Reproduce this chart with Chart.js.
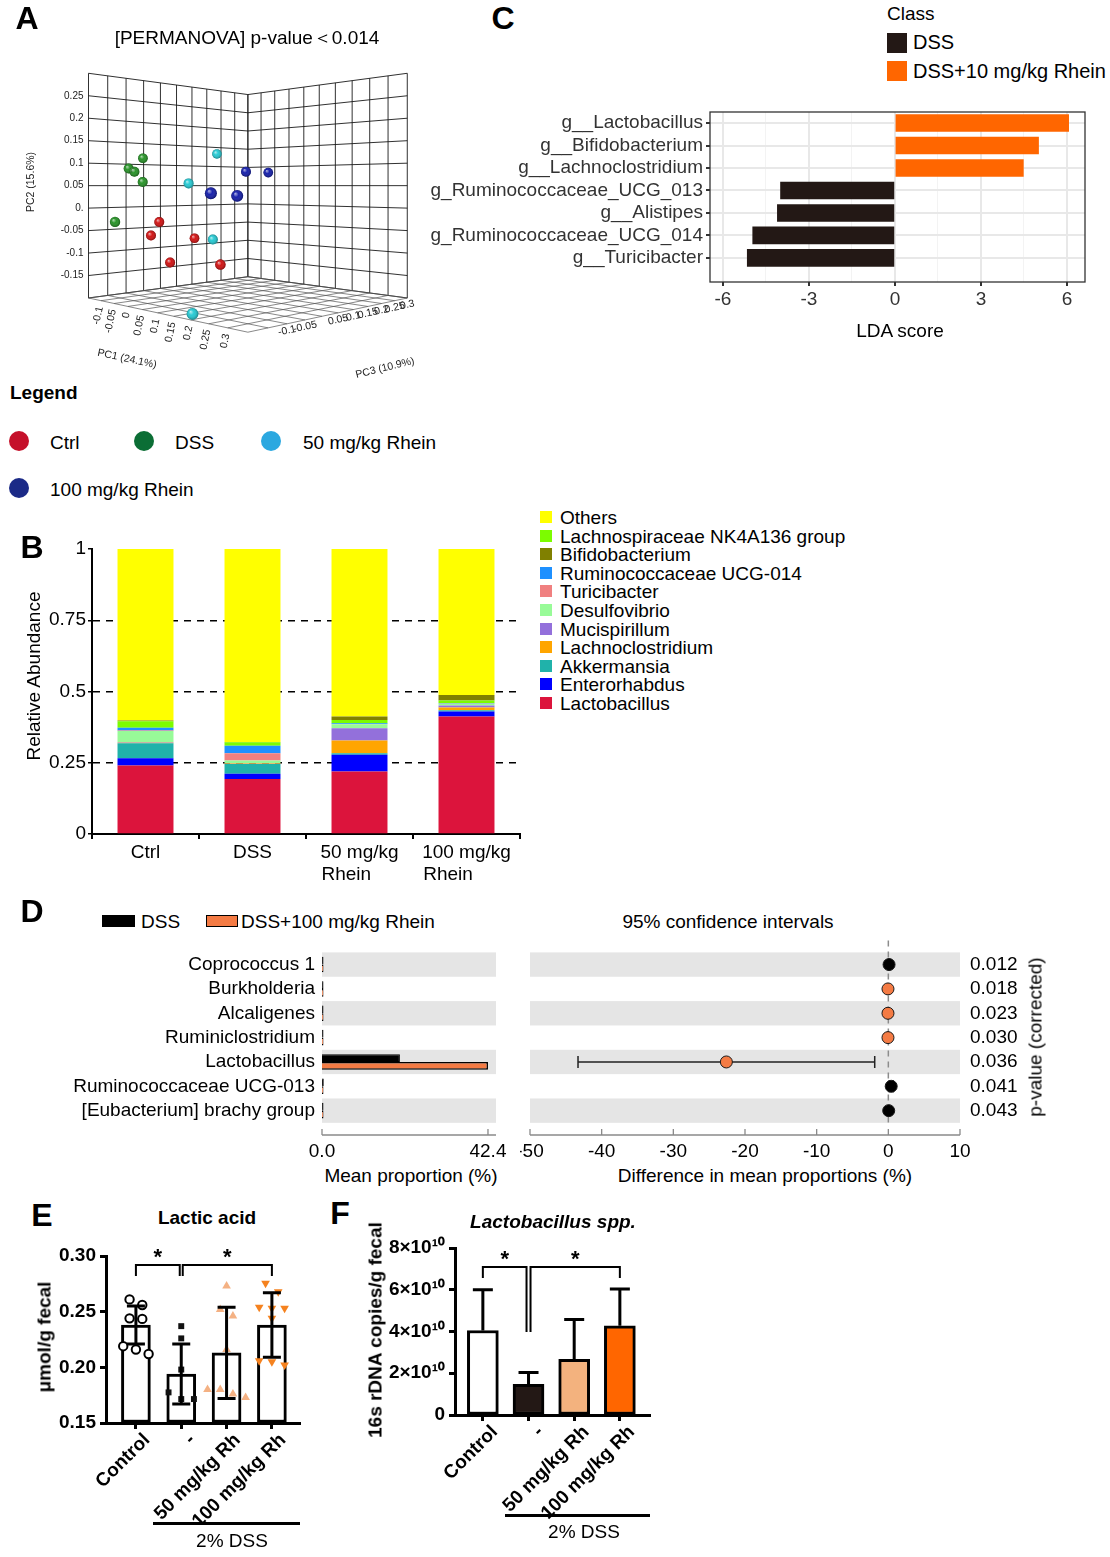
<!DOCTYPE html>
<html>
<head>
<meta charset="utf-8">
<script src="https://cdn.jsdelivr.net/npm/chart.js@4.4.1/dist/chart.umd.min.js"></script>
<style>
  body { margin: 0; background: #fff; }
  #fig { position: relative; width: 1110px; height: 1557px; background: #fff; overflow: hidden;
         font-family: 'Liberation Sans', Arial, Helvetica, sans-serif; color: #000; }
  #fig canvas { position: absolute; }
  .t { position: absolute; white-space: nowrap; line-height: 1; }
  .sw { position: absolute; box-sizing: border-box; }
</style>
</head>
<body>
<div id="fig"></div>
<script>
// ---------- A: PCoA ----------
const pc1Range = [-0.15, 0.35];
const pc2Range = [-0.2, 0.3];
const pc3Range = [-0.2, 0.3];
const pc1Grid = [-0.15, -0.1, -0.05, 0, 0.05, 0.1, 0.15, 0.2, 0.25, 0.3, 0.35];
const pc2Grid = [-0.2, -0.15, -0.1, -0.05, 0, 0.05, 0.1, 0.15, 0.2, 0.25, 0.3];
const pc3Grid = [-0.2, -0.15, -0.1, -0.05, 0, 0.05, 0.1, 0.15, 0.2, 0.25, 0.3];
const pc1Ticks = [-0.1, -0.05, 0, 0.05, 0.1, 0.15, 0.2, 0.25, 0.3];
const pc1TickLabels = ['-0.1', '-0.05', '0', '0.05', '0.1', '0.15', '0.2', '0.25', '0.3'];
const pc2Ticks = [0.25, 0.2, 0.15, 0.1, 0.05, 0, -0.05, -0.1, -0.15];
const pc2TickLabels = ['0.25', '0.2', '0.15', '0.1', '0.05', '0.', '-0.05', '-0.1', '-0.15'];
const pc3Ticks = [-0.1, -0.05, 0.05, 0.1, 0.15, 0.2, 0.25, 0.3];
const pc3TickLabels = ['-0.1', '-0.05', '0.05', '0.1', '0.15', '0.2', '0.25', '0.3'];

const ctrlPC1 = [-0.039, -0.052, -0.022, -0.022, 0.112];
const ctrlPC2 = [-0.031, -0.061, -0.071, -0.121, -0.117];
const ctrlPC3 = [-0.089, -0.102, -0.001, -0.072, -0.044];
const dssPC1 = [-0.105, -0.087, -0.078, -0.065, -0.066];
const dssPC2 = [0.113, 0.088, 0.081, 0.058, -0.028];
const dssPC3 = [-0.085, -0.137, -0.128, -0.115, -0.187];
const rh50PC1 = [-0.004, 0.007, 0.045, 0.185];
const rh50PC2 = [0.124, 0.055, -0.070, -0.193];
const rh50PC3 = [0.052, -0.043, -0.005, -0.183];
const rh100PC1 = [0.097, 0.098, 0.228, 0.263];
const rh100PC2 = [0.081, 0.080, 0.036, 0.031];
const rh100PC3 = [0.047, 0.118, -0.175, -0.141];

// ---------- B: relative abundance ----------
// second lines are padded so they start flush with the first line, as in the figure
const abGroups = [['Ctrl'], ['DSS'], ['50 mg/kg', 'Rhein\u00a0\u00a0\u00a0\u00a0\u00a0'], ['100 mg/kg', 'Rhein\u00a0\u00a0\u00a0\u00a0\u00a0\u00a0\u00a0']];
const abTicks = [0, 0.25, 0.5, 0.75, 1];
const abTickLabels = ['0', '0.25', '0.5', '0.75', '1'];
const lactobacillus     = [0.240, 0.193, 0.219, 0.412];
const enterorhabdus     = [0.026, 0.018, 0.059, 0.018];
const akkermansia       = [0.052, 0.035, 0.005, 0.004];
const lachnoclostridium = [0.002, 0.001, 0.045, 0.010];
const mucispirillum     = [0.002, 0.001, 0.043, 0.007];
const desulfovibrio     = [0.039, 0.010, 0.014, 0.006];
const turicibacter      = [0.002, 0.025, 0.001, 0.001];
const ruminoUCG014      = [0.010, 0.027, 0.003, 0.002];
const lachnospiraceae   = [0.023, 0.012, 0.011, 0.008];
const bifidobacterium   = [0.002, 0.001, 0.012, 0.020];
const others            = [0.602, 0.677, 0.588, 0.512];
const legendOrder = ['Others', 'Lachnospiraceae NK4A136 group', 'Bifidobacterium', 'Ruminococcaceae UCG-014',
                     'Turicibacter', 'Desulfovibrio', 'Mucispirillum', 'Lachnoclostridium', 'Akkermansia',
                     'Enterorhabdus', 'Lactobacillus'];

// ---------- C: LEfSe ----------
const ldaTaxa = ['g__Lactobacillus', 'g__Bifidobacterium', 'g__Lachnoclostridium', 'g_Ruminococcaceae_UCG_013',
                 'g__Alistipes', 'g_Ruminococcaceae_UCG_014', 'g__Turicibacter'];
const ldaScores = [6.06, 5.01, 4.48, -3.99, -4.10, -4.96, -5.15];
const ldaTicks = [-6, -4.5, -3, -1.5, 0, 1.5, 3, 4.5, 6];

// ---------- D: STAMP ----------
const stampTaxa = ['Coprococcus 1', 'Burkholderia', 'Alcaligenes', 'Ruminiclostridium', 'Lactobacillus',
                   'Ruminococcaceae UCG-013', '[Eubacterium] brachy group'];
const meanDSS   = [0.12, 0.01, 0.01, 0.02, 19.9, 0.45, 0.06];
const meanRh100 = [0.02, 0.06, 0.06, 0.07, 42.4, 0.05, 0.01];
const diffMean  = [0.10, -0.05, -0.05, -0.05, -22.6, 0.40, 0.05];
const ciLow     = [0.03, -0.09, -0.09, -0.09, -43.3, 0.12, 0.01];
const ciHigh    = [0.17, -0.01, -0.01, -0.01, -1.9, 0.68, 0.09];
const pCorrected = ['0.012', '0.018', '0.023', '0.030', '0.036', '0.041', '0.043'];
const propTicks = [0, 42.4];
const diffTicks = [-50, -40, -30, -20, -10, 0, 10];

// ---------- E: lactic acid ----------
const doseGroups = ['Control', '-', '50 mg/kg Rh', '100 mg/kg Rh'];
const eMeans = [0.238, 0.194, 0.213, 0.238];
const eSD = [0.017, 0.027, 0.041, 0.029];
const eCtrl = [0.261, 0.256, 0.244, 0.2435, 0.219, 0.212, 0.216];
const eDss = [0.237, 0.226, 0.198, 0.1775, 0.1715, 0.1715];
const eRh50 = [0.273, 0.252, 0.246, 0.216, 0.180, 0.180, 0.173, 0.176];
const eRh100 = [0.2755, 0.268, 0.253, 0.254, 0.253, 0.244, 0.206, 0.205, 0.202];
const eTicks = [0.15, 0.2, 0.25, 0.3];
const eBrackets = [{ from: 0, to: 1, level: 0.292, dropA: 0.282, dropB: 0.282 },
                   { from: 1, to: 3, level: 0.292, dropA: 0.282, dropB: 0.282 }];

// ---------- F: Lactobacillus qPCR ----------
const fMeans = [4.05e10, 1.47e10, 2.67e10, 4.27e10];
const fSD = [1.95e10, 0.56e10, 1.9e10, 1.76e10];
const fTicks = [0, 2e10, 4e10, 6e10, 8e10];
const fTickLabels = ['0', '2×10¹⁰', '4×10¹⁰', '6×10¹⁰', '8×10¹⁰'];
const fBrackets = [{ from: 0, to: 1, level: 7.09e10, dropA: 6.56e10, dropB: 3.98e10 },
                   { from: 1, to: 3, level: 7.09e10, dropA: 3.98e10, dropB: 6.56e10 }];

// ==========================================
const FONT = "'Liberation Sans', Arial, Helvetica, sans-serif";
Chart.defaults.font.family = FONT;
Chart.defaults.font.size = 19;
Chart.defaults.color = '#000';
Chart.defaults.animation = false;
Chart.defaults.responsive = false;
Chart.defaults.plugins.legend.display = false;
Chart.defaults.plugins.tooltip.enabled = false;

const fig = document.getElementById('fig');

function canvas(left, top, w, h) {
    const c = document.createElement('canvas');
    c.width = w; c.height = h;
    c.style.left = left + 'px'; c.style.top = top + 'px';
    c.style.width = w + 'px'; c.style.height = h + 'px';
    fig.appendChild(c);
    return c;
}

function put(html, x, y, o = {}) {
    const d = document.createElement('div');
    d.className = 't';
    d.innerHTML = html;
    d.style.left = x + 'px';
    d.style.top = y + 'px';
    d.style.fontSize = (o.size || 19) + 'px';
    if (o.bold) d.style.fontWeight = 'bold';
    if (o.italic) d.style.fontStyle = 'italic';
    if (o.color) d.style.color = o.color;
    const tx = o.align === 'left' ? '0' : o.align === 'right' ? '-100%' : '-50%';
    d.style.transform = `translate(${tx},-50%)` + (o.rot ? ` rotate(${o.rot}deg)` : '');
    fig.appendChild(d);
}

function swatch(x, y, w, h, css) {
    const d = document.createElement('div');
    d.className = 'sw';
    d.style.cssText += `left:${x}px;top:${y}px;width:${w}px;height:${h}px;${css}`;
    fig.appendChild(d);
}

const fixedTicks = vals => axis => { axis.ticks = vals.map(v => ({ value: v })); };
const indexTicks = n => axis => { axis.ticks = Array.from({ length: n }, (_, i) => ({ value: i })); };
// pin an axis box to a fixed size and stop its labels from pushing the plot area around
const fitBox = (w, h) => s => {
    if (w != null) s.width = w;
    if (h != null) s.height = h;
    s.paddingTop = 0; s.paddingBottom = 0; s.paddingLeft = 0; s.paddingRight = 0;
};

// ---------- Panel A ----------
const cam = { cx: 249, cy: 185.5, f: 703, D: 3.03 };
function project(p1, p2, p3) {
    const u = (p1 - pc1Range[0]) / (pc1Range[1] - pc1Range[0]);
    const v = (p2 - pc2Range[0]) / (pc2Range[1] - pc2Range[0]);
    const w = (p3 - pc3Range[0]) / (pc3Range[1] - pc3Range[0]);
    const a = u - 0.5, b = w - 0.5;
    const lat = (a + b) / Math.SQRT2;
    const dep = cam.D + (b - a) / Math.SQRT2;
    return { x: cam.cx + cam.f * lat / dep, y: cam.cy - cam.f * (v - 0.5) / dep, d: dep };
}

const boxGrid = {
    id: 'boxGrid',
    beforeDatasetsDraw(chart) {
        const { ctx, scales: { x, y } } = chart;
        const P = (a, b, c) => { const p = project(a, b, c); return [x.getPixelForValue(p.x), y.getPixelForValue(p.y)]; };
        const seg = (p, q) => { ctx.beginPath(); ctx.moveTo(p[0], p[1]); ctx.lineTo(q[0], q[1]); ctx.stroke(); };
        const [u0, u1] = pc1Range, [v0, v1] = pc2Range, [w0, w1] = pc3Range;
        ctx.save();
        ctx.strokeStyle = '#1a1a1a';
        ctx.lineWidth = 0.9;
        pc2Grid.forEach(v => seg(P(u0, v, w0), P(u0, v, w1)));
        pc3Grid.forEach(w => seg(P(u0, v0, w), P(u0, v1, w)));
        pc2Grid.forEach(v => seg(P(u0, v, w1), P(u1, v, w1)));
        pc1Grid.forEach(u => seg(P(u, v0, w1), P(u, v1, w1)));
        ctx.strokeStyle = '#555';
        ctx.lineWidth = 0.7;
        pc1Grid.forEach(u => seg(P(u, v0, w0), P(u, v0, w1)));
        pc3Grid.forEach(w => seg(P(u0, v0, w), P(u1, v0, w)));

        ctx.fillStyle = '#222';
        ctx.font = `10px ${FONT}`;
        ctx.textAlign = 'right';
        ctx.textBaseline = 'middle';
        pc2Ticks.forEach((v, i) => { const p = P(u0, v, w0); ctx.fillText(pc2TickLabels[i], p[0] - 5, p[1]); });
        ctx.font = `10.5px ${FONT}`;
        pc1Ticks.forEach((u, i) => {
            const p = P(u, v0, w0);
            ctx.save(); ctx.translate(p[0] - 1, p[1] + 6); ctx.rotate(-78 * Math.PI / 180);
            ctx.textAlign = 'right'; ctx.fillText(pc1TickLabels[i], 0, 0); ctx.restore();
        });
        pc3Ticks.forEach((w, i) => {
            const p = P(u1, v0, w);
            ctx.save(); ctx.translate(p[0], p[1] + 7); ctx.rotate(-12 * Math.PI / 180);
            ctx.textAlign = 'center'; ctx.fillText(pc3TickLabels[i], 0, 0); ctx.restore();
        });
        ctx.font = `10.5px ${FONT}`;
        ctx.textAlign = 'center';
        ctx.save(); ctx.translate(31, 182); ctx.rotate(-Math.PI / 2); ctx.fillText('PC2 (15.6%)', 0, 0); ctx.restore();
        ctx.save(); ctx.translate(127, 359); ctx.rotate(12 * Math.PI / 180); ctx.fillText('PC1 (24.1%)', 0, 0); ctx.restore();
        ctx.save(); ctx.translate(385, 368); ctx.rotate(-14 * Math.PI / 180); ctx.fillText('PC3 (10.9%)', 0, 0); ctx.restore();
        ctx.restore();
    }
};

const sphereShade = {
    id: 'sphereShade',
    afterDatasetsDraw(chart) {
        const ctx = chart.ctx;
        ctx.save();
        chart.data.datasets.forEach((ds, di) => {
            chart.getDatasetMeta(di).data.forEach(pt => {
                const r = pt.options.radius;
                const g = ctx.createRadialGradient(pt.x - r * 0.35, pt.y - r * 0.4, 0, pt.x, pt.y, r);
                g.addColorStop(0, 'rgba(255,255,255,0.7)');
                g.addColorStop(0.45, 'rgba(255,255,255,0.05)');
                g.addColorStop(1, 'rgba(0,0,0,0.35)');
                ctx.fillStyle = g;
                ctx.beginPath(); ctx.arc(pt.x, pt.y, r, 0, Math.PI * 2); ctx.fill();
            });
        });
        ctx.restore();
    }
};

const pcaSet = (p1, p2, p3, color) => ({
    data: p1.map((v, i) => project(v, p2[i], p3[i])),
    backgroundColor: color,
    borderWidth: 0,
    pointRadius: c => c.raw ? 5 * cam.D / c.raw.d : 5
});

new Chart(canvas(0, 0, 420, 380), {
    type: 'scatter',
    data: {
        datasets: [
            pcaSet(dssPC1, dssPC2, dssPC3, '#1f8f1f'),
            pcaSet(ctrlPC1, ctrlPC2, ctrlPC3, '#d00a0a'),
            pcaSet(rh50PC1, rh50PC2, rh50PC3, '#1ec8d2'),
            pcaSet(rh100PC1, rh100PC2, rh100PC3, '#0c16a8')
        ]
    },
    options: {
        layout: { padding: 0 },
        scales: {
            x: { type: 'linear', min: 0, max: 420, display: false },
            y: { type: 'linear', min: 0, max: 380, reverse: true, display: false }
        }
    },
    plugins: [boxGrid, sphereShade]
});

put('A', 27, 18, { size: 32, bold: true });
put('[PERMANOVA] p-value＜0.014', 247, 37);
put('Legend', 10, 392, { bold: true, align: 'left' });
[['Ctrl', 19, 441, 50, '#c5102a'], ['DSS', 144, 441, 175, '#0b6e35'],
 ['50 mg/kg Rhein', 271, 441, 303, '#2ba8e0'], ['100 mg/kg Rhein', 19, 488, 50, '#1b2a87']].forEach(([n, cx, cy, tx, col]) => {
    swatch(cx - 10, cy - 10, 20, 20, `border-radius:50%;background:${col};`);
    put(n, tx, cy + 1, { align: 'left' });
});

// ---------- Panel B ----------
const stackSeries = [
    ['Lactobacillus', lactobacillus, '#dc143c'],
    ['Enterorhabdus', enterorhabdus, '#0000ff'],
    ['Akkermansia', akkermansia, '#20b2aa'],
    ['Lachnoclostridium', lachnoclostridium, '#ffa500'],
    ['Mucispirillum', mucispirillum, '#9370db'],
    ['Desulfovibrio', desulfovibrio, '#98fb98'],
    ['Turicibacter', turicibacter, '#f08080'],
    ['Ruminococcaceae UCG-014', ruminoUCG014, '#1e90ff'],
    ['Lachnospiraceae NK4A136 group', lachnospiraceae, '#7cfc00'],
    ['Bifidobacterium', bifidobacterium, '#808000'],
    ['Others', others, '#ffff00']
];

new Chart(canvas(20, 538, 510, 352), {
    type: 'bar',
    data: {
        labels: abGroups,
        datasets: stackSeries.map(([name, vals, col]) => ({
            label: name, data: vals, backgroundColor: col,
            barPercentage: 0.523, categoryPercentage: 1
        }))
    },
    options: {
        layout: { padding: { top: 11, right: 10, left: 0, bottom: 0 } },
        scales: {
            x: {
                stacked: true,
                grid: { offset: true, drawOnChartArea: false, color: '#000', tickColor: '#000', tickLength: 5, lineWidth: 2 },
                border: { color: '#000', width: 2 },
                ticks: { padding: 2 },
                afterFit: fitBox(null, 56)
            },
            y: {
                stacked: true, min: 0, max: 1,
                afterBuildTicks: fixedTicks(abTicks),
                ticks: { callback: v => abTickLabels[abTicks.indexOf(v)], padding: 2 },
                grid: {
                    color: c => (c.tick && c.tick.value > 0 && c.tick.value < 1) ? '#000' : 'rgba(0,0,0,0)',
                    tickColor: '#000', tickLength: 4, lineWidth: 1.5
                },
                border: { color: '#000', width: 2, dash: [7, 6] },
                afterFit: fitBox(72, null)
            }
        }
    }
});

put('B', 32, 547, { size: 32, bold: true });
put('Relative Abundance', 33, 676, { rot: -90 });
legendOrder.forEach((name, i) => {
    const col = stackSeries.find(s => s[0] === name)[2];
    const cy = 517 + i * 18.6;
    swatch(540, cy - 6, 12, 12, `background:${col};`);
    put(name, 560, cy, { align: 'left', size: 19 });
});

// ---------- Panel C ----------
const boxPlugin = {
    id: 'boxPlugin',
    afterDatasetsDraw(chart) {
        const { ctx, chartArea: a } = chart;
        ctx.save(); ctx.strokeStyle = '#333'; ctx.lineWidth = 1.3;
        ctx.strokeRect(a.left, a.top, a.right - a.left, a.bottom - a.top);
        ctx.restore();
    }
};
const major3 = c => c.tick && c.tick.value % 3 === 0;

new Chart(canvas(420, 100, 680, 250), {
    type: 'bar',
    data: {
        datasets: [{
            data: ldaScores.map((v, i) => ({ x: v, y: i })),
            backgroundColor: ldaScores.map(v => v > 0 ? '#ff6600' : '#231815'),
            barThickness: 17
        }]
    },
    options: {
        indexAxis: 'y',
        layout: { padding: { top: 12, right: 15, left: 0, bottom: 0 } },
        scales: {
            x: {
                type: 'linear', min: -6.45, max: 6.63,
                afterBuildTicks: fixedTicks(ldaTicks),
                ticks: { callback: v => (v % 3 === 0 ? String(v) : ''), color: '#333', padding: 2, autoSkip: false, maxRotation: 0 },
                grid: {
                    color: c => major3(c) ? '#e8e8e8' : '#f3f3f3',
                    lineWidth: c => major3(c) ? 2 : 1,
                    tickColor: c => major3(c) ? '#333' : 'rgba(0,0,0,0)',
                    tickLength: 4
                },
                border: { display: false },
                afterFit: fitBox(null, 68)
            },
            y: {
                type: 'linear', reverse: true, min: -0.49, max: 7.07, offset: false,
                afterBuildTicks: indexTicks(ldaTaxa.length),
                ticks: { callback: i => ldaTaxa[i], color: '#333', padding: 3, autoSkip: false },
                grid: { offset: false, color: '#e8e8e8', lineWidth: 2, tickColor: '#333', tickLength: 4 },
                border: { display: false },
                afterFit: fitBox(290, null)
            }
        }
    },
    plugins: [boxPlugin]
});

put('C', 503, 18, { size: 32, bold: true });
put('Class', 887, 13, { align: 'left' });
swatch(887, 33, 20, 20, 'background:#231815;');
put('DSS', 913, 42, { align: 'left', size: 20 });
swatch(887, 61, 20, 20, 'background:#ff6600;');
put('DSS+10 mg/kg Rhein', 913, 71, { align: 'left', size: 20 });
put('LDA score', 900, 330);

// ---------- Panel D ----------
const bands = {
    id: 'bands',
    beforeDraw(chart) {
        const { ctx, chartArea: a, scales: { y } } = chart;
        ctx.save(); ctx.fillStyle = '#e5e5e5';
        stampTaxa.forEach((_, i) => {
            if (i % 2) return;
            const t = y.getPixelForValue(i - 0.5), b = y.getPixelForValue(i + 0.5);
            ctx.fillRect(a.left, t, a.right - a.left, b - t);
        });
        ctx.restore();
    }
};
const stampAxis = {
    id: 'stampAxis',
    afterDraw(chart) {
        const { ctx, chartArea: a, scales: { x } } = chart;
        ctx.save(); ctx.strokeStyle = '#8a8a8a'; ctx.lineWidth = 1.3;
        ctx.beginPath(); ctx.moveTo(a.left, a.bottom); ctx.lineTo(a.right, a.bottom);
        x.ticks.forEach(t => { const px = x.getPixelForValue(t.value); ctx.moveTo(px, a.bottom); ctx.lineTo(px, a.bottom - 6); });
        ctx.stroke(); ctx.restore();
    }
};
const ciPlugin = {
    id: 'ci',
    beforeDatasetsDraw(chart) {
        const { ctx, chartArea: a, scales: { x, y } } = chart;
        ctx.save();
        ctx.strokeStyle = '#8c8c8c'; ctx.lineWidth = 1.5; ctx.setLineDash([6, 5]);
        const x0 = x.getPixelForValue(0);
        ctx.beginPath(); ctx.moveTo(x0, a.top - 12); ctx.lineTo(x0, y.getPixelForValue(stampTaxa.length - 0.5)); ctx.stroke();
        ctx.setLineDash([]);
        ctx.strokeStyle = '#222'; ctx.lineWidth = 1.5;
        diffMean.forEach((_, i) => {
            const py = y.getPixelForValue(i), l = x.getPixelForValue(ciLow[i]), h = x.getPixelForValue(ciHigh[i]);
            ctx.beginPath();
            ctx.moveTo(l, py); ctx.lineTo(h, py);
            ctx.moveTo(l, py - 6); ctx.lineTo(l, py + 6);
            ctx.moveTo(h, py - 6); ctx.lineTo(h, py + 6);
            ctx.stroke();
        });
        ctx.restore();
    }
};
const stampY = (extra) => Object.assign({
    type: 'linear', reverse: true, min: -0.5, max: 7, offset: false,
    afterBuildTicks: indexTicks(stampTaxa.length),
    grid: { display: false, drawTicks: false, offset: false },
    border: { display: false }
}, extra);

new Chart(canvas(40, 940, 470, 220), {
    type: 'bar',
    data: {
        datasets: [
            { data: meanDSS.map((v, i) => ({ x: v, y: i })), backgroundColor: '#000', borderColor: '#000', borderWidth: 1 },
            { data: meanRh100.map((v, i) => ({ x: v, y: i })), backgroundColor: '#f47b44', borderColor: '#000', borderWidth: 1.5 }
        ]
    },
    options: {
        indexAxis: 'y',
        layout: { padding: { top: 12.4, right: 14, left: 0, bottom: 0 } },
        datasets: { bar: { categoryPercentage: 0.64, barPercentage: 1, minBarLength: 1.5 } },
        scales: {
            x: {
                type: 'linear', min: 0, max: 44.45,
                afterBuildTicks: fixedTicks(propTicks),
                ticks: { callback: v => v.toFixed(1), padding: 5, autoSkip: false, maxRotation: 0 },
                grid: { display: false, drawTicks: false },
                border: { display: false },
                afterFit: fitBox(null, 25)
            },
            y: stampY({
                ticks: { callback: i => stampTaxa[i], padding: 7, autoSkip: false },
                afterFit: fitBox(282, null)
            })
        }
    },
    plugins: [bands, stampAxis]
});

new Chart(canvas(520, 940, 540, 220), {
    type: 'scatter',
    data: {
        datasets: [{
            data: diffMean.map((v, i) => ({ x: v, y: i })),
            pointRadius: 6,
            pointBackgroundColor: diffMean.map(v => v < 0 ? '#f47b44' : '#000'),
            pointBorderColor: '#1a1a1a',
            pointBorderWidth: 1
        }]
    },
    options: {
        layout: { padding: { top: 12.4, right: 0, left: 10, bottom: 0 } },
        scales: {
            x: {
                type: 'linear', min: -50, max: 10,
                afterBuildTicks: fixedTicks(diffTicks),
                ticks: { padding: 5, autoSkip: false, maxRotation: 0 },
                grid: { display: false, drawTicks: false },
                border: { display: false },
                afterFit: fitBox(null, 25)
            },
            y: stampY({
                position: 'right',
                ticks: { callback: i => pCorrected[i], padding: 10, autoSkip: false },
                afterFit: fitBox(100, null)
            })
        }
    },
    plugins: [bands, ciPlugin, stampAxis]
});

put('D', 32, 911, { size: 32, bold: true });
swatch(102, 915, 33, 12, 'background:#000;');
put('DSS', 141, 921, { align: 'left' });
swatch(206, 915, 32, 12, 'background:#f47b44;border:1.5px solid #000;');
put('DSS+100 mg/kg Rhein', 241, 921, { align: 'left' });
put('95% confidence intervals', 728, 921);
put('p-value (corrected)', 1035, 1037, { rot: -90 });
put('Mean proportion (%)', 411, 1175);
put('Difference in mean proportions (%)', 765, 1175);

// ---------- Panels E & F ----------
function swarm(vals, gap, width) {
    const idx = vals.map((v, i) => i).sort((a, b) => vals[b] - vals[a]);
    const off = new Array(vals.length).fill(0);
    let run = [idx[0]];
    const flush = () => run.forEach((k, j) => { off[k] = (j - (run.length - 1) / 2) * width; });
    for (let n = 1; n < idx.length; n++) {
        if (vals[idx[n - 1]] - vals[idx[n]] < gap) run.push(idx[n]);
        else { flush(); run = [idx[n]]; }
    }
    flush();
    return off;
}

function statsPlugin(means, sds, twoSided, capW, brackets, gap) {
    return {
        id: 'stats',
        afterDatasetsDraw(chart) {
            const { ctx, scales: { x, y } } = chart;
            ctx.save();
            ctx.strokeStyle = '#000'; ctx.fillStyle = '#000'; ctx.lineWidth = 3;
            means.forEach((m, i) => {
                const px = x.getPixelForValue(i);
                const top = y.getPixelForValue(m + sds[i]);
                const bot = y.getPixelForValue(twoSided ? m - sds[i] : m);
                ctx.beginPath();
                ctx.moveTo(px, top); ctx.lineTo(px, bot);
                ctx.moveTo(px - capW / 2, top); ctx.lineTo(px + capW / 2, top);
                if (twoSided) { ctx.moveTo(px - capW / 2, bot); ctx.lineTo(px + capW / 2, bot); }
                ctx.stroke();
            });
            ctx.lineWidth = 2;
            ctx.font = `bold 22px ${FONT}`;
            ctx.textAlign = 'center';
            ctx.textBaseline = 'alphabetic';
            brackets.forEach((b, k) => {
                const xa = x.getPixelForValue(b.from) + (k === 0 ? 0 : gap);
                const xb = x.getPixelForValue(b.to) - (k === 0 ? gap : 0);
                const yy = y.getPixelForValue(b.level);
                ctx.beginPath();
                ctx.moveTo(xa, y.getPixelForValue(b.dropA)); ctx.lineTo(xa, yy);
                ctx.lineTo(xb, yy); ctx.lineTo(xb, y.getPixelForValue(b.dropB));
                ctx.stroke();
                ctx.fillText('*', (xa + xb) / 2, yy - 1);
            });
            ctx.restore();
        }
    };
}

const doseX = (min, max, h, shift) => ({
    type: 'linear', min, max, offset: false,
    afterBuildTicks: indexTicks(doseGroups.length),
    ticks: { callback: i => doseGroups[i], font: { weight: 'bold', size: 19 }, minRotation: 45, maxRotation: 45,
             autoSkip: false, padding: 0, labelOffset: shift },
    grid: { offset: false, drawOnChartArea: false, color: '#000', tickColor: '#000', tickLength: 6, tickWidth: 3 },
    border: { color: '#000', width: 3 },
    afterFit: fitBox(null, h)
});

const dots = (vals, gi, style) => {
    const off = swarm(vals, 0.009, 0.28);
    return Object.assign({ type: 'scatter', order: 1, data: vals.map((v, j) => ({ x: gi + off[j], y: v })) }, style);
};

new Chart(canvas(30, 1240, 290, 283), {
    type: 'bar',
    data: {
        datasets: [
            dots(eCtrl, 0, { pointStyle: 'circle', pointRadius: 4.2, backgroundColor: '#fff', borderColor: '#000', borderWidth: 2 }),
            dots(eDss, 1, { pointStyle: 'rect', pointRadius: 4.2, backgroundColor: '#111', borderColor: '#111', borderWidth: 0 }),
            dots(eRh50, 2, { pointStyle: 'triangle', pointRadius: 5, backgroundColor: '#f4b183', borderColor: '#f4b183', borderWidth: 0 }),
            dots(eRh100, 3, { pointStyle: 'triangle', rotation: 180, pointRadius: 5, backgroundColor: '#f5821f', borderColor: '#f5821f', borderWidth: 0 }),
            {
                type: 'bar', order: 2,
                data: eMeans.map((v, i) => ({ x: i, y: v })),
                backgroundColor: '#fff', borderColor: '#000', borderWidth: 3, borderSkipped: false,
                barThickness: 29, base: 0.15
            }
        ]
    },
    options: {
        layout: { padding: { top: 16, right: 20, left: 0, bottom: 0 } },
        scales: {
            x: doseX(-0.66, 3.62, 100, 11),
            y: {
                type: 'linear', min: 0.15, max: 0.30,
                afterBuildTicks: fixedTicks(eTicks),
                ticks: { callback: v => v.toFixed(2), font: { weight: 'bold', size: 19 }, padding: 4 },
                grid: { drawOnChartArea: false, color: '#000', tickColor: '#000', tickLength: 6, tickWidth: 3 },
                border: { color: '#000', width: 3 },
                afterFit: fitBox(76, null)
            }
        }
    },
    plugins: [statsPlugin(eMeans, eSD, true, 18, eBrackets, 1.5)]
});

put('E', 42, 1215, { size: 32, bold: true });
put('Lactic acid', 207, 1217, { bold: true });
put('μmol/g fecal', 44, 1337, { bold: true, rot: -90 });
swatch(153, 1522, 147, 2.5, 'background:#000;');
put('2% DSS', 232, 1540);

new Chart(canvas(360, 1230, 305, 290), {
    type: 'bar',
    data: {
        datasets: [{
            data: fMeans.map((v, i) => ({ x: i, y: v })),
            backgroundColor: ['#ffffff', '#231815', '#f3b27e', '#ff6600'],
            borderColor: '#000', borderWidth: 3, borderSkipped: false,
            barThickness: 31, base: 0
        }]
    },
    options: {
        layout: { padding: { top: 18, right: 15, left: 0, bottom: 0 } },
        scales: {
            x: doseX(-0.61, 3.66, 105, 12),
            y: {
                type: 'linear', min: 0, max: 8e10,
                afterBuildTicks: fixedTicks(fTicks),
                ticks: { callback: v => fTickLabels[fTicks.indexOf(v)], font: { weight: 'bold', size: 19 }, padding: 4 },
                grid: { drawOnChartArea: false, color: '#000', tickColor: '#000', tickLength: 6, tickWidth: 3 },
                border: { color: '#000', width: 3 },
                afterFit: fitBox(95, null)
            }
        }
    },
    plugins: [statsPlugin(fMeans, fSD, false, 20, fBrackets, 2)]
});

put('F', 340, 1213, { size: 32, bold: true });
put('Lactobacillus spp.', 553, 1221, { bold: true, italic: true });
put('16s rDNA copies/g fecal', 375, 1330, { bold: true, rot: -90 });
swatch(505, 1514, 145, 2.5, 'background:#000;');
put('2% DSS', 584, 1531);
</script>
</body>
</html>
